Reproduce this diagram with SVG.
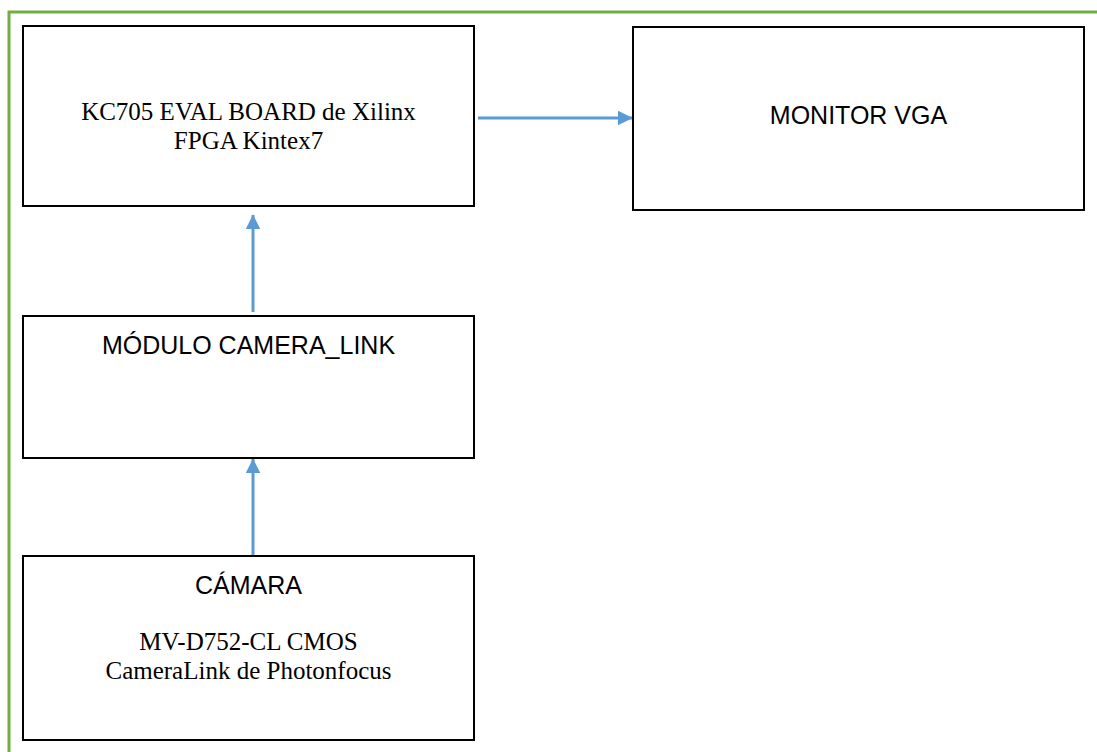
<svg xmlns="http://www.w3.org/2000/svg" width="1097" height="752" viewBox="0 0 1097 752">
<style>
.box{fill:#fff;stroke:#000;stroke-width:2}
.sans{font-family:"Liberation Sans",Arial,sans-serif;font-size:25px;fill:#000;text-anchor:middle}
.serif{font-family:"Liberation Serif","Times New Roman",serif;font-size:25px;fill:#000;text-anchor:middle}
.conn{stroke:#5B9BD5;stroke-width:3;fill:none;marker-end:url(#ah)}
</style>
<defs>
<marker id="ah" markerWidth="5" markerHeight="5" refX="4.8" refY="2.5" orient="auto" markerUnits="strokeWidth">
<path d="M0,0 L5,2.5 L0,5 Z" fill="#5B9BD5"/>
</marker>
</defs>
<rect width="1097" height="752" fill="#fff"/>
<rect x="9" y="12" width="1100" height="760" fill="none" stroke="#70AD47" stroke-width="3"/>
<g id="connectors">
<line class="conn" x1="478" y1="118" x2="632" y2="118"/>
<line class="conn" x1="253" y1="312" x2="253" y2="215"/>
<line class="conn" x1="253" y1="555" x2="253" y2="459"/>
</g>
<g id="kc705">
<rect class="box" x="23" y="26" width="451" height="180"/>
<text class="serif" x="248.5" y="120">KC705 EVAL BOARD de Xilinx</text>
<text class="serif" x="248.5" y="149">FPGA Kintex7</text>
</g>
<g id="monitor">
<rect class="box" x="633" y="27" width="451" height="183"/>
<text class="sans" x="858.5" y="124">MONITOR VGA</text>
</g>
<g id="modulo">
<rect class="box" x="23" y="316" width="451" height="142"/>
<text class="sans" x="248.5" y="354">MÓDULO CAMERA_LINK</text>
</g>
<g id="camara">
<rect class="box" x="23" y="556" width="451" height="184"/>
<text class="sans" x="248.5" y="594">CÁMARA</text>
<text class="serif" x="248.5" y="650">MV-D752-CL CMOS</text>
<text class="serif" x="248.5" y="679">CameraLink de Photonfocus</text>
</g>
</svg>
